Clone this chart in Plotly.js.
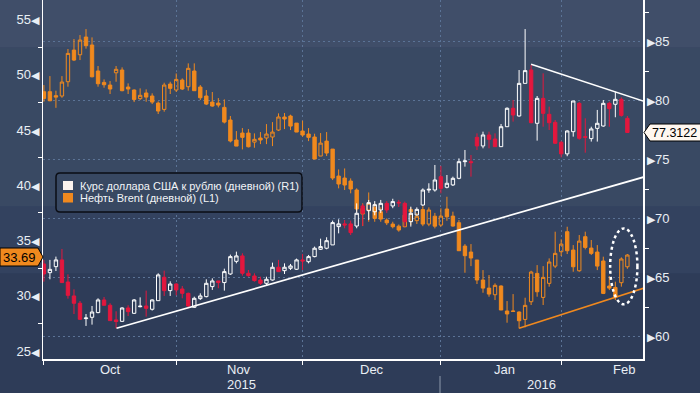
<!DOCTYPE html>
<html><head><meta charset="utf-8">
<script src="https://cdn.plot.ly/plotly-3.0.1.min.js"></script>
<style>html,body{margin:0;padding:0;background:#2e3c58;}#chart{width:700px;height:393px;}</style>
</head><body><div id="chart"></div>
<script>
// ---- Brent (left axis, L1) daily OHLC ----
const brentOpen  = [48.46,48.46,48.1,48.07,49.36,52.22,51.8,53.4,52.68,50.33,49.3,49.06,50.17,50.42,48.88,48.61,47.83,48.34,48.07,47.43,46.86,49.15,48.61,49.51,48.91,50.33,48.88,48.07,47.52,47.43,47.04,45.9,44.09,44.72,44.72,43.9,44.27,44.27,44.36,44.99,46.17,46.26,45.62,44.9,44.63,44.36,42.64,43.99,43.27,40.83,40.65,40.38,39.57,37.9,37.76,38.0,37.6,36.85,36.49,36.3,36.25,37.8,36.8,37.8,36.49,37.2,36.4,37.85,37.21,36.61,34.5,33.96,33.24,31.43,30.7,30.1,30.89,28.63,28.63,28.54,27.87,29.47,32.03,29.86,31.13,32.69,33.99,35.8,34.14,32.27,35.35,34.32,33.96,33.15,30.89,30.76,31.19,32.63];
const brentHigh  = [49.06,49.87,48.55,49.87,52.32,53.22,53.58,54.12,53.37,50.78,49.57,49.42,50.78,50.66,49.21,48.67,48.76,48.67,48.31,47.58,49.27,49.36,50.11,49.66,51.02,51.02,49.06,48.61,48.43,47.88,47.76,46.26,44.9,45.17,45.08,44.69,44.81,45.53,45.71,46.5,46.53,46.38,45.62,45.83,45.17,44.66,44.72,44.81,43.27,41.43,41.52,40.62,39.72,38.36,39.35,38.36,38.0,37.0,36.7,36.45,37.8,37.99,37.5,38.1,38.0,37.5,37.91,38.96,37.61,36.85,34.68,34.68,33.24,32.33,31.88,31.13,30.95,29.53,30.16,28.6,29.83,32.27,32.78,32.69,33.39,35.8,35.11,36.25,34.59,35.5,35.8,35.05,34.59,33.54,31.79,31.28,33.48,33.78];
const brentLow   = [47.55,47.6,47.0,47.91,48.91,51.23,51.32,52.35,49.75,48.91,48.82,48.25,49.36,48.5,48.25,47.52,47.7,47.55,47.34,46.44,46.65,48.25,48.43,48.61,48.55,48.55,47.7,47.25,47.1,47.04,45.59,43.87,43.54,43.24,43.42,43.39,43.72,43.72,43.54,44.9,45.08,44.99,44.81,44.39,43.99,42.37,42.64,42.64,40.47,39.72,39.57,39.27,37.61,36.31,36.7,36.7,36.7,36.4,36.1,35.8,36.2,36.4,36.5,36.3,36.3,36.1,36.25,36.79,36.25,34.08,32.09,32.69,31.07,30.28,29.92,29.62,28.72,27.57,28.57,27.06,27.15,29.17,29.92,29.17,30.83,32.51,33.6,33.78,32.18,32.18,34.2,33.69,32.33,30.16,30.52,29.62,30.83,32.45];
const brentClose = [47.85,47.64,47.97,49.33,51.92,51.32,53.13,52.62,49.81,49.18,49.09,48.7,50.48,48.55,48.7,47.76,48.13,47.97,47.52,46.71,49.06,48.76,49.57,48.7,50.57,48.55,47.91,47.34,47.16,47.25,45.71,44.0,43.54,44.33,43.48,44.15,44.09,44.63,44.81,46.17,45.99,45.35,44.81,44.54,44.33,42.37,43.81,42.91,40.65,40.11,40.02,39.66,37.85,37.4,38.36,37.0,36.94,36.6,36.25,35.95,37.3,37.6,37.2,36.49,37.76,36.3,37.21,37.15,36.31,34.08,33.63,33.42,31.43,30.7,30.16,30.95,28.72,28.36,28.6,27.75,29.14,32.15,30.37,31.67,33.06,33.84,34.68,34.08,32.63,34.95,34.38,33.84,32.69,30.22,30.7,29.86,33.33,33.69];

// ---- USD/RUB (right axis, R1) daily OHLC ----
const usdOpen  = [66.18,65.44,65.95,66.52,64.65,63.47,62.85,61.55,61.66,62.06,63.13,62.68,61.44,61.32,62.45,62.0,62.56,62.62,62.34,63.07,65.05,63.92,64.48,64.06,63.69,62.51,63.24,63.41,64.26,64.74,64.6,65.33,66.4,66.86,65.39,65.16,64.82,64.54,64.82,65.9,65.61,65.81,65.73,66.52,66.37,66.8,67.42,67.51,67.79,69.34,69.57,69.57,69.39,71.09,70.69,70.6,70.75,71.31,71.09,71.4,71.31,69.76,70.33,71.17,72.44,72.44,73.57,72.67,72.87,73.43,74.84,74.84,76.9,76.17,77.1,76.76,76.11,77.8,79.36,78.71,81.47,82.6,78.09,80.2,78.85,78.17,76.48,75.5,77.38,79.78,76.96,76.79,77.66,77.86,79.78,79.7,80.12,78.51];
const usdHigh  = [66.52,66.52,66.8,67.45,65.3,64.03,63.04,61.94,62.62,63.27,63.38,62.85,62.17,62.51,62.68,63.21,63.35,63.92,63.18,65.39,65.61,64.71,64.54,64.31,63.75,63.41,63.69,64.88,64.96,64.74,65.78,66.97,67.22,67.08,65.67,65.39,65.1,65.1,66.29,66.52,66.23,66.18,66.63,67.02,66.94,67.65,68.32,68.44,69.85,69.96,69.9,69.85,71.31,71.26,71.6,71.5,71.6,71.5,71.7,71.6,71.46,71.03,70.97,72.58,73.01,74.56,74.48,73.71,73.57,75.12,75.83,75.4,77.24,77.38,77.38,77.24,78.03,79.44,80.06,82.6,86.07,83.03,80.4,82.32,79.5,78.37,76.6,77.5,79.98,79.9,78.51,77.8,79.22,80.06,79.92,80.77,80.29,78.71];
const usdLow   = [64.68,64.88,65.58,64.6,63.24,61.94,61.44,60.93,61.04,62.0,62.68,61.38,60.73,61.27,61.77,61.94,62.5,61.72,62.23,63.07,63.47,63.47,63.52,63.27,62.51,62.45,63.13,63.35,63.98,64.12,63.92,65.25,66.23,65.19,65.1,64.68,64.4,64.4,64.77,65.53,65.33,65.67,65.67,65.67,66.23,66.74,67.36,67.42,67.79,68.77,69.2,68.63,69.2,69.4,69.9,70.3,70.5,70.5,70.9,71.0,69.34,69.34,70.3,71.09,72.2,72.3,72.16,72.58,72.78,73.35,74.42,73.57,75.83,75.97,75.97,76.11,76.11,77.8,78.23,78.65,81.47,78.09,76.62,77.8,77.52,76.34,75.2,75.3,76.96,76.7,75.6,76.54,76.54,77.8,77.8,78.6,78.65,77.3];
const usdClose = [65.33,65.72,66.52,64.6,63.52,62.85,61.49,61.6,62.11,63.13,62.68,61.38,61.3,62.45,62.14,63.13,62.6,62.42,63.13,65.25,63.92,64.48,63.98,63.69,62.62,63.27,63.47,64.54,64.74,64.6,65.53,66.8,66.86,65.39,65.19,64.77,64.54,64.88,65.9,65.53,65.9,66.01,66.52,66.43,66.8,67.51,67.65,68.15,69.68,69.57,69.48,68.83,70.47,70.47,71.37,71.2,71.31,70.75,71.46,71.35,69.76,70.47,70.8,72.44,72.5,73.29,72.58,73.01,73.43,74.84,74.9,74.76,76.17,77.1,76.73,76.11,77.8,79.36,78.79,81.47,82.55,78.14,80.2,78.93,78.14,76.4,75.5,77.44,79.98,76.82,76.9,77.61,78.09,79.78,79.33,80.12,78.76,77.3122];

// ---- axis labels ----
const monthStarts  = [0, 22, 43, 66, 86];
const monthCenters = [11, 32.5, 54.5, 76.5, 96.5];
const monthLabels  = ['Oct', 'Nov', 'Dec', 'Jan', 'Feb'];
const yearCenters  = [32.9, 82.7];
const yearLabels   = ['2015', '2016'];
const leftTicks    = [25, 30, 35, 40, 45, 50, 55];
const leftMinor    = [27.5, 32.5, 37.5, 42.5, 47.5, 52.5];
const rightTicks   = [60, 65, 70, 75, 80, 85];
const rightMinor   = [62.5, 67.5, 72.5, 77.5, 82.5, 87.5];

// ---- trend lines (drawn on the chart) ----
const usdSupportX = [12.07, 100];  const usdSupportY = [60.73, 73.58];
const usdResistX  = [81, 100];     const usdResistY  = [83.09, 79.91];
const brentSupX   = [79, 100];     const brentSupY   = [27.06, 30.75];
const ellipseX = [94.14, 98.67];   const ellipseY = [29.23, 36.10];

const lastBrent = '33.69';
const lastUsd = '77.3122';
const legendNames = ['Курс доллара США к рублю (дневной) (R1)', 'Нефть Brent (дневной) (L1)'];

const days = brentClose.map((_, i) => i);

const ORANGE = '#f0891e', RED = '#e3173e', WHITE = '#ffffff';
const FONT = 'Liberation Sans, Arial, sans-serif';
const TXT = '#e9eef4';
const GRID = '#5b7396';

const px2x = px => (px - 43) / 600;
const py2y = py => (359 - py) / 359;

const traces = [
  {type: 'candlestick', x: days, open: brentOpen, high: brentHigh, low: brentLow, close: brentClose,
   xaxis: 'x', yaxis: 'y', whiskerwidth: 0, showlegend: false, hoverinfo: 'skip',
   increasing: {line: {color: ORANGE, width: 1}, fillcolor: 'rgba(0,0,0,0)'},
   decreasing: {line: {color: ORANGE, width: 1}, fillcolor: ORANGE}},
  {type: 'scatter', mode: 'lines', x: brentSupX, y: brentSupY, xaxis: 'x', yaxis: 'y',
   line: {color: ORANGE, width: 1.6}, showlegend: false, hoverinfo: 'skip'},
  {type: 'candlestick', x: days, open: usdOpen, high: usdHigh, low: usdLow, close: usdClose,
   xaxis: 'x', yaxis: 'y2', whiskerwidth: 0, showlegend: false, hoverinfo: 'skip',
   increasing: {line: {color: WHITE, width: 1}, fillcolor: 'rgba(0,0,0,0)'},
   decreasing: {line: {color: RED, width: 1}, fillcolor: RED}},
  {type: 'scatter', mode: 'lines', x: usdSupportX, y: usdSupportY, xaxis: 'x', yaxis: 'y2',
   line: {color: WHITE, width: 1.7}, showlegend: false, hoverinfo: 'skip'},
  {type: 'scatter', mode: 'lines', x: usdResistX, y: usdResistY, xaxis: 'x', yaxis: 'y2',
   line: {color: WHITE, width: 1.6}, showlegend: false, hoverinfo: 'skip'}
];

// legend box (rounded)
const lx0 = px2x(56), lx1 = px2x(302), ly1 = py2y(173), ly0 = py2y(212);
const rx = 4/600, ry = 4/359;
const legendPath = `M ${lx0+rx},${ly1} L ${lx1-rx},${ly1} Q ${lx1},${ly1} ${lx1},${ly1-ry} L ${lx1},${ly0+ry} Q ${lx1},${ly0} ${lx1-rx},${ly0} L ${lx0+rx},${ly0} Q ${lx0},${ly0} ${lx0},${ly0+ry} L ${lx0},${ly1-ry} Q ${lx0},${ly1} ${lx0+rx},${ly1} Z`;

const leftTag = `M ${px2x(0)},${py2y(248)} L ${px2x(38)},${py2y(248)} L ${px2x(43)},${py2y(257)} L ${px2x(38)},${py2y(266)} L ${px2x(0)},${py2y(266)} Z`;
const rightTag = `M ${px2x(644)},${py2y(132.5)} L ${px2x(650)},${py2y(124)} L ${px2x(701)},${py2y(124)} L ${px2x(701)},${py2y(141)} L ${px2x(650)},${py2y(141)} Z`;

const shapes = [
  {type: 'rect', xref: 'paper', yref: 'paper', x0: -0.1, x1: 1.1, y0: py2y(47.7), y1: 1.0, fillcolor: '#404e69', line: {width: 0}, layer: 'below'},
  {type: 'rect', xref: 'paper', yref: 'paper', x0: -0.1, x1: 1.1, y0: py2y(206.7), y1: py2y(47.7), fillcolor: '#394963', line: {width: 0}, layer: 'below'},
  {type: 'rect', xref: 'paper', yref: 'paper', x0: -0.1, x1: 1.1, y0: py2y(273.3), y1: py2y(206.7), fillcolor: '#33425f', line: {width: 0}, layer: 'below'},
  {type: 'circle', xref: 'x', yref: 'y', x0: ellipseX[0], x1: ellipseX[1], y0: ellipseY[0], y1: ellipseY[1],
   line: {color: WHITE, width: 2.5, dash: 'dot'}},
  {type: 'path', xref: 'paper', yref: 'paper', path: legendPath, fillcolor: '#384862', line: {color: '#0a0d14', width: 1.5}},
  {type: 'rect', xref: 'paper', yref: 'paper', x0: px2x(63), x1: px2x(73), y0: py2y(190), y1: py2y(181), fillcolor: '#fbf3ee', line: {width: 0}},
  {type: 'rect', xref: 'paper', yref: 'paper', x0: px2x(63), x1: px2x(73), y0: py2y(202.5), y1: py2y(193), fillcolor: ORANGE, line: {width: 0}},
  {type: 'path', xref: 'paper', yref: 'paper', path: leftTag, fillcolor: ORANGE, line: {color: '#000000', width: 1}},
  {type: 'path', xref: 'paper', yref: 'paper', path: rightTag, fillcolor: '#fff7f0', line: {color: '#000000', width: 1}},
  {type: 'line', xref: 'paper', yref: 'paper', x0: px2x(440), x1: px2x(440), y0: py2y(376), y1: py2y(393), line: {color: '#8d99ab', width: 1}}
];

const annotations = [];
monthLabels.forEach((m, k) => annotations.push({x: monthCenters[k], xref: 'x', y: py2y(369), yref: 'paper',
  text: m, showarrow: false, xanchor: 'center', yanchor: 'middle', font: {family: FONT, size: 13, color: TXT}}));
yearLabels.forEach((m, k) => annotations.push({x: yearCenters[k], xref: 'x', y: py2y(384.5), yref: 'paper',
  text: m, showarrow: false, xanchor: 'center', yanchor: 'middle', font: {family: FONT, size: 13, color: TXT}}));
annotations.push({x: px2x(78), xref: 'paper', y: py2y(185.5), yref: 'paper', text: legendNames[0], showarrow: false,
  xanchor: 'left', yanchor: 'middle', font: {family: FONT, size: 11, color: '#f2f4f7'}});
annotations.push({x: px2x(78), xref: 'paper', y: py2y(198), yref: 'paper', text: legendNames[1], showarrow: false,
  xanchor: 'left', yanchor: 'middle', font: {family: FONT, size: 11, color: '#f2f4f7'}});
annotations.push({x: px2x(19.5), xref: 'paper', y: py2y(257), yref: 'paper', text: lastBrent, showarrow: false,
  xanchor: 'center', yanchor: 'middle', font: {family: FONT, size: 13, color: '#000000'}});
annotations.push({x: px2x(675), xref: 'paper', y: py2y(132.5), yref: 'paper', text: lastUsd, showarrow: false,
  xanchor: 'center', yanchor: 'middle', font: {family: FONT, size: 12.5, color: '#000000'}});

const layout = {
  width: 700, height: 393,
  margin: {l: 43, r: 57, t: 0, b: 34, pad: 0},
  paper_bgcolor: '#2e3c58', plot_bgcolor: 'rgba(0,0,0,0)',
  showlegend: false, hovermode: false,
  font: {family: FONT, color: TXT},
  xaxis: {range: [-0.15, 99.6], rangeslider: {visible: false}, tickmode: 'array', tickvals: monthStarts,
    showticklabels: false, ticks: 'outside', ticklen: 4, tickcolor: WHITE, tickwidth: 1,
    showgrid: true, gridcolor: GRID, griddash: '2px,3px', gridwidth: 1,
    showline: true, linecolor: WHITE, linewidth: 1.5, zeroline: false, fixedrange: true},
  yaxis: {range: [24.29, 56.75], side: 'left', tickmode: 'array', tickvals: leftTicks,
    ticktext: leftTicks.map(v => v + '<span style="font-size:11px">◀</span>'),
    ticks: '', ticklabelstandoff: 0, tickfont: {family: FONT, size: 13, color: TXT},
    showgrid: false, zeroline: false, showline: true, linecolor: WHITE, linewidth: 1.5,
    minor: {tickmode: 'array', tickvals: leftMinor, ticks: 'outside', ticklen: 4, tickcolor: WHITE, showgrid: false}},
  yaxis2: {range: [58.13, 88.53], side: 'right', overlaying: 'y', tickmode: 'array', tickvals: rightTicks,
    ticktext: rightTicks.map(v => '<span style="font-size:11px">▶</span>' + v),
    ticks: '', ticklabelstandoff: 0, tickfont: {family: FONT, size: 13, color: TXT},
    showgrid: true, gridcolor: GRID, griddash: '2px,3px', gridwidth: 1,
    zeroline: false, showline: true, linecolor: WHITE, linewidth: 1.5,
    minor: {tickmode: 'array', tickvals: rightMinor, ticks: 'outside', ticklen: 4, tickcolor: WHITE, showgrid: false}},
  boxgap: 0.2,
  shapes: shapes,
  annotations: annotations
};

Plotly.newPlot('chart', traces, layout, {staticPlot: true, displayModeBar: false});
</script>
</body></html>
